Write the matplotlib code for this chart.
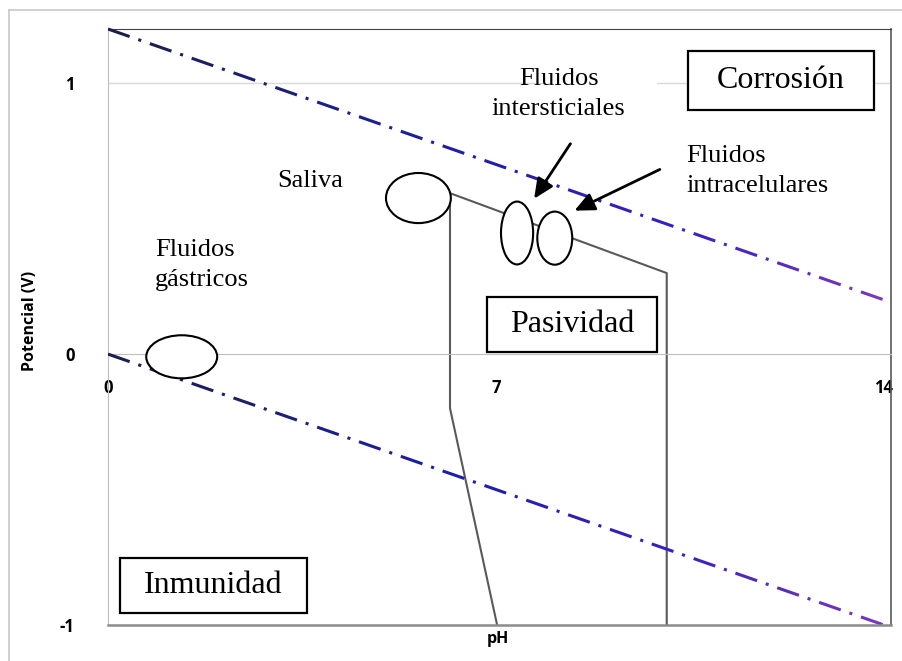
import matplotlib
matplotlib.use("Agg")
import matplotlib.pyplot as plt
from matplotlib.patches import Ellipse, Rectangle
from matplotlib.lines import Line2D
from matplotlib.colors import LinearSegmentedColormap
import numpy as np

# axis data
ph_ticks = [0, 7, 14]
v_ticks = [-1, 0, 1]

# water stability lines (pH, V)
line_ph = [0, 14]
upper_v = [1.2, 0.2]
lower_v = [0.0, -1.0]

# passivity boundary (gray polyline)
pass_ph = [7.02, 6.17, 6.17, 10.08, 10.08]
pass_v = [-1.0, -0.2, 0.594, 0.299, -1.0]

# body fluids: centre pH, centre V, width, height
fluid_ph = [1.33, 5.60, 7.38, 8.06]
fluid_v = [-0.01, 0.576, 0.447, 0.428]
fluid_w = [1.28, 1.17, 0.58, 0.63]
fluid_h = [0.159, 0.185, 0.232, 0.196]

# region labels: text, box corners (pH0, V0, pH1, V1)
regions = ["Corrosión", "Pasividad", "Inmunidad"]
region_box = [(10.46, 0.900, 13.82, 1.118),
              (6.84, 0.007, 9.905, 0.210),
              (0.217, -0.956, 3.59, -0.753)]

W, H = 902, 661
fig = plt.figure(figsize=(W / 100, H / 100), dpi=100)
ax = fig.add_axes([108 / W, 36 / H, 783 / W, 596 / H])
ax.set_xlim(0, 14.126)
ax.set_ylim(-1, 1.2)

serif = "Liberation Serif"
sans = "Open Sans"

# gradient dash-dot lines, drawn in clipped strips so the dash pattern stays continuous
cmap = LinearSegmentedColormap.from_list(
    "g", [(0, "#1a1f4d"), (0.45, "#1d1fa8"), (0.75, "#3a20c2"), (1, "#7a38b8")])
n = 30
edges = np.linspace(0, 14.2, n + 1)
for yy in (upper_v, lower_v):
    for i in range(n):
        l, = ax.plot(line_ph, yy, lw=2.2, color=cmap(i / (n - 1)),
                     linestyle=(0, (7.5, 3, 1, 3)), zorder=3)
        clip = Rectangle((edges[i], -2), edges[i + 1] - edges[i], 4,
                         transform=ax.transData)
        l.set_clip_path(clip)

ax.plot(pass_ph, pass_v, color="#595959", lw=1.5, zorder=2)

ax.axhline(1, color="#d9d9d9", lw=1, zorder=1)

for cx, cy, w, h in zip(fluid_ph, fluid_v, fluid_w, fluid_h):
    ax.add_patch(Ellipse((cx, cy), w, h, facecolor="white", edgecolor="black",
                         lw=1.5, zorder=4))

# spines
ax.spines["bottom"].set_position(("data", 0))
ax.spines["bottom"].set_color("#bfbfbf")
ax.spines["left"].set_color("#bfbfbf")
ax.spines["top"].set_color("#404040")
ax.spines["right"].set_color("#595959")
ax.spines["right"].set_linewidth(1.2)
ax.plot([0, 1], [0, 0], transform=ax.transAxes, color="#8c8c8c", lw=1.8,
        clip_on=False, zorder=5)

ax.set_xticks(ph_ticks)
ax.set_xticklabels([str(t) for t in ph_ticks], fontfamily=sans,
                   fontweight="bold", fontsize=12)
ax.set_yticks(v_ticks)
ax.set_yticklabels([str(t) for t in v_ticks], fontfamily=sans,
                   fontweight="bold", fontsize=12)
ax.tick_params(axis="x", length=0, pad=18)
ax.tick_params(axis="y", length=0, pad=24)

ax.set_xlabel("pH", fontfamily=sans, fontweight="bold", fontsize=11.5)
ax.xaxis.set_label_coords(0.498, -0.01)
ax.set_ylabel("Potencial (V)", fontfamily=sans, fontweight="bold", fontsize=11.5)
ax.yaxis.set_label_coords(-0.09, 0.51)

# region boxes
for name, (x0, y0, x1, y1) in zip(regions, region_box):
    ax.add_patch(Rectangle((x0, y0), x1 - x0, y1 - y0, facecolor="white",
                           edgecolor="black", lw=1.6, zorder=6))
    ax.text((x0 + x1) / 2, (y0 + y1) / 2, name, fontfamily=serif, fontsize=23,
            ha="center", va="center", zorder=7)

# white text frame behind "Fluidos intersticiales"
ax.add_patch(Rectangle((7.9, 0.84), 2.0, 0.25, facecolor="white",
                       edgecolor="none", zorder=1.5))

# fluid labels
ax.text(3.05, 0.64, "Saliva", fontfamily=serif, fontsize=19, va="center")
ax.text(0.85, 0.33, "Fluidos\ngástricos", fontfamily=serif, fontsize=19,
        va="center", linespacing=1.45)
ax.text(8.13, 0.96, "Fluidos\nintersticiales", fontfamily=serif, fontsize=19,
        va="center", ha="center", linespacing=1.45, zorder=5)
ax.text(10.43, 0.675, "Fluidos\nintracelulares", fontfamily=serif, fontsize=19,
        va="center", linespacing=1.45)

arrow = dict(arrowstyle="-|>,head_length=1.2,head_width=0.55", color="black", lw=2)
ax.annotate("", xy=(7.66, 0.565), xytext=(8.37, 0.785), arrowprops=arrow, zorder=6)
ax.annotate("", xy=(8.37, 0.525), xytext=(10.0, 0.686), arrowprops=arrow, zorder=6)

# outer frame
fig.add_artist(Line2D([9 / W, 1], [1 - 10 / H, 1 - 10 / H], color="#c8c8c8", lw=1.2))
fig.add_artist(Line2D([9 / W, 9 / W], [0, 1 - 10 / H], color="#c8c8c8", lw=1.2))

fig.savefig("out.png", dpi=100)
